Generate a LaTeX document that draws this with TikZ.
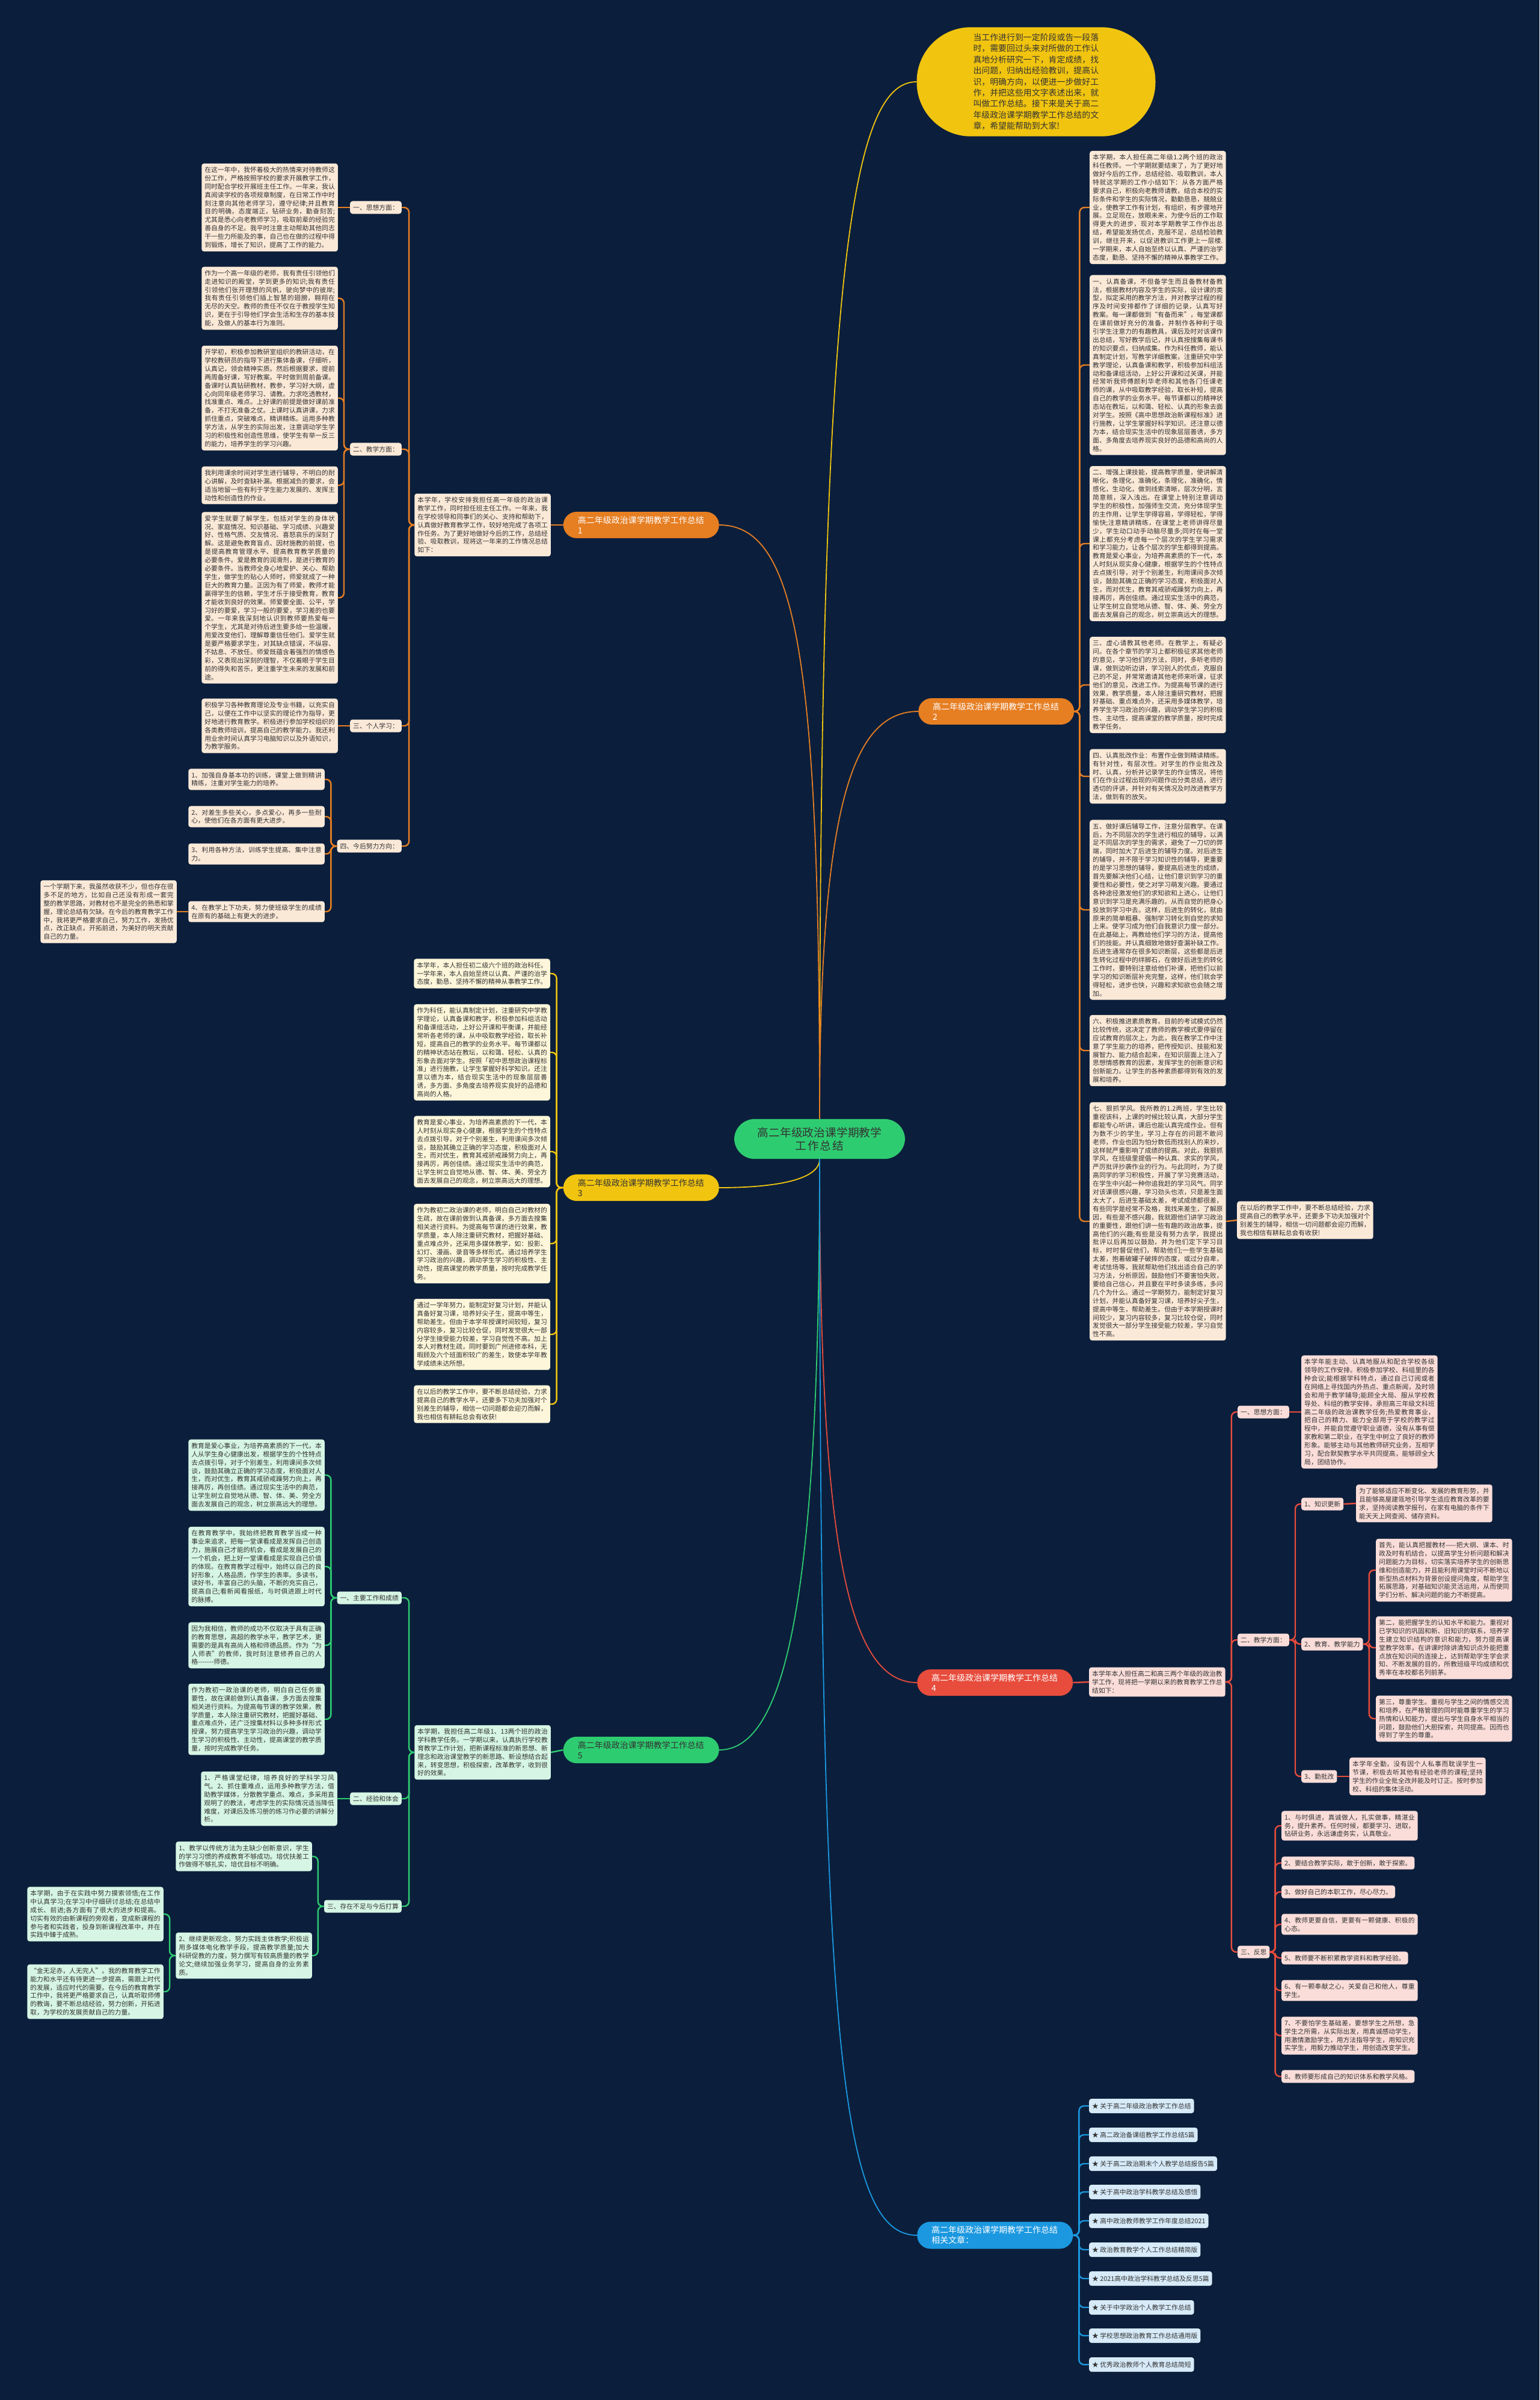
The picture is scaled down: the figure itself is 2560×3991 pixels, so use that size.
\documentclass[tikz,border=0pt]{standalone}
\usepackage{fontspec}
\setmainfont{Noto Sans CJK SC}
\XeTeXlinebreaklocale "zh"
\XeTeXlinebreakskip=0pt plus 1pt
\usetikzlibrary{positioning}

\definecolor{navy}{RGB}{11,31,60}
\definecolor{inkgray}{RGB}{51,51,51}
\definecolor{orangeline}{RGB}{230,126,34}
\definecolor{peachfill}{RGB}{251,233,216}
\definecolor{sunyellow}{RGB}{241,196,15}
\definecolor{creamfill}{RGB}{253,246,218}
\definecolor{redline}{RGB}{231,76,60}
\definecolor{pinkfill}{RGB}{250,221,217}
\definecolor{leafgreen}{RGB}{46,204,113}
\definecolor{mintfill}{RGB}{214,245,228}
\definecolor{skyblue}{RGB}{27,152,224}
\definecolor{icefill}{RGB}{214,234,248}

\tikzset{
    txtbox/.style={rectangle, rounded corners=4pt, inner xsep=5pt, inner ysep=5.5pt, text width=216.5pt, align=justify, font=\fontsize{10.8}{13.9}\selectfont, text=inkgray},
    headbox/.style={rectangle, rounded corners=4pt, inner xsep=5pt, inner ysep=5.5pt, font=\fontsize{10.8}{13.9}\selectfont, text=inkgray},
    branch/.style={rectangle, rounded corners=22pt, inner xsep=24pt, inner ysep=7.5pt, text width=211pt, align=left, font=\fontsize{14}{17}\selectfont},
    olink/.style={draw=orangeline, line width=2.4pt, rounded corners=8pt},
    ylink/.style={draw=sunyellow, line width=2.4pt, rounded corners=8pt},
    rlink/.style={draw=redline, line width=2.4pt, rounded corners=8pt},
    glink/.style={draw=leafgreen, line width=2.4pt, rounded corners=8pt},
    blink/.style={draw=skyblue, line width=2.4pt, rounded corners=8pt},
    curve/.style={line width=1.8pt}
}

\begin{document}
\begin{tikzpicture}[x=1pt, y=-1pt]
\useasboundingbox (0,0) rectangle (2560,3991);
\fill[navy] (0,0) rectangle (2560,3991);

% centre and introduction
\node[rectangle, rounded corners=34pt, fill=leafgreen, text=inkgray, inner xsep=35pt, inner ysep=13.5pt, text width=214pt, align=center, font=\fontsize{18.7}{22}\selectfont] (ctr) at (1363,1894) {高二年级政治课学期教学\\工作总结};
\node[rectangle, rounded corners=90pt, fill=sunyellow, text=inkgray, inner xsep=94pt, inner ysep=10.5pt, text width=209pt, align=left, font=\fontsize{13.9}{18.4}\selectfont] (intro) at (1723,136) {当工作进行到一定阶段或告一段落时，需要回过头来对所做的工作认真地分析研究一下，肯定成绩，找出问题，归纳出经验教训，提高认识，明确方向，以便进一步做好工作，并把这些用文字表述出来，就叫做工作总结。接下来是关于高二年级政治课学期教学工作总结的文章，希望能帮助到大家!};

\node[branch, fill=orangeline, text=white, anchor=east] (b1) at (1196,873) {高二年级政治课学期教学工作总结\\1};
\node[branch, fill=orangeline, text=white, anchor=west] (b2) at (1527,1183) {高二年级政治课学期教学工作总结\\2};
\node[branch, fill=sunyellow, text=inkgray, anchor=east] (b3) at (1196,1975) {高二年级政治课学期教学工作总结\\3};
\node[branch, fill=redline, text=white, anchor=west] (b4) at (1525,2798) {高二年级政治课学期教学工作总结\\4};
\node[branch, fill=leafgreen, text=inkgray, anchor=east] (b5) at (1196,2910) {高二年级政治课学期教学工作总结\\5};
\node[branch, fill=skyblue, text=white, anchor=west] (rel) at (1525,3717) {高二年级政治课学期教学工作总结\\相关文章：};

\draw[curve, sunyellow] (ctr.north) .. controls +(0,-1400) and +(-110,0) .. (intro.west);
\draw[curve, orangeline] (ctr.north) .. controls +(0,-760) and +(130,0) .. (b1.east);
\draw[curve, orangeline] (ctr.north) .. controls +(0,-520) and +(-110,0) .. (b2.west);
\draw[curve, sunyellow] (ctr.south) .. controls +(0,40) and +(70,0) .. (b3.east);
\draw[curve, redline] (ctr.south) .. controls +(0,620) and +(-120,0) .. (b4.west);
\draw[curve, leafgreen] (ctr.south) .. controls +(0,680) and +(120,0) .. (b5.east);
\draw[curve, skyblue] (ctr.south) .. controls +(0,1450) and +(-130,0) .. (rel.west);

% branch 1
\node[txtbox, fill=peachfill, anchor=east] (b1i) at (916,873) {本学年，学校安排我担任高一年级的政治课教学工作，同时担任班主任工作。一年来，我在学校领导和同事们的关心、支持和帮助下，认真做好教育教学工作，较好地完成了各项工作任务。为了更好地做好今后的工作，总结经验、吸取教训，现将这一年来的工作情况总结如下：};
\node[headbox, fill=peachfill, anchor=east] (b1h1) at (668,345) {一、思想方面：};
\node[headbox, fill=peachfill, anchor=east] (b1h2) at (668,747) {二、教学方面：};
\node[headbox, fill=peachfill, anchor=east] (b1h3) at (668,1207) {三、个人学习：};
\node[headbox, fill=peachfill, anchor=east] (b1h4) at (668,1407) {四、今后努力方向：};
\node[txtbox, fill=peachfill, anchor=east] (b1t1) at (562,345) {在这一年中，我怀着极大的热情来对待教师这份工作，严格按照学校的要求开展教学工作，同时配合学校开展班主任工作。一年来，我认真阅读学校的各项规章制度，在日常工作中时刻注意向其他老师学习，遵守纪律;并且教育目的明确，态度端正，钻研业务，勤奋刻苦;尤其是悉心向老教师学习，吸取前辈的经验完善自身的不足。我平时注意主动帮助其他同志干一些力所能及的事，自己也在做的过程中得到锻炼，增长了知识，提高了工作的能力。};
\node[txtbox, fill=peachfill, anchor=east] (b1t2) at (562,496) {作为一个高一年级的老师，我有责任引领他们走进知识的殿堂，学到更多的知识;我有责任引领他们张开理想的风帆，驶向梦中的彼岸;我有责任引领他们插上智慧的翅膀，翱翔在无尽的天空。教师的责任不仅在于教授学生知识，更在于引导他们学会生活和生存的基本技能，及做人的基本行为准则。};
\node[txtbox, fill=peachfill, anchor=east] (b1t3) at (562,662) {开学初，积极参加教研室组织的教研活动，在学校教研员的指导下进行集体备课，仔细听，认真记，领会精神实质。然后根据要求，提前两周备好课，写好教案。平时做到周前备课。备课时认真钻研教材、教参，学习好大纲，虚心向同年级老师学习、请教。力求吃透教材，找准重点、难点。上好课的前提是做好课前准备，不打无准备之仗。上课时认真讲课，力求抓住重点，突破难点，精讲精练。运用多种教学方法，从学生的实际出发，注意调动学生学习的积极性和创造性思维，使学生有举一反三的能力，培养学生的学习兴趣。};
\node[txtbox, fill=peachfill, anchor=east] (b1t4) at (562,807) {我利用课余时间对学生进行辅导，不明白的耐心讲解，及时查缺补漏。根据减负的要求，会适当地留一些有利于学生能力发展的、发挥主动性和创造性的作业。};
\node[txtbox, fill=peachfill, anchor=east] (b1t5) at (562,994) {爱学生就要了解学生，包括对学生的身体状况、家庭情况、知识基础、学习成绩、兴趣爱好、性格气质、交友情况、喜怒哀乐的深刻了解。这是避免教育盲点、因材施教的前提，也是提高教育管理水平、提高教育教学质量的必要条件。爱是教育的润滑剂，是进行教育的必要条件。当教师全身心地爱护、关心、帮助学生，做学生的贴心人师时，师爱就成了一种巨大的教育力量。正因为有了师爱，教师才能赢得学生的信赖，学生才乐于接受教育，教育才能收到良好的效果。师爱要全面、公平，学习好的要爱，学习一般的要爱，学习差的也要爱。一年来我深刻地认识到教师要热爱每一个学生，尤其是对待后进生要多给一些温暖，用爱改变他们，理解尊重信任他们。爱学生就是要严格要求学生，对其缺点错误，不纵容、不姑息、不放任。师爱既蕴含着强烈的情感色彩，又表现出深刻的理智，不仅着眼于学生目前的得失和苦乐，更注重学生未来的发展和前途。};
\node[txtbox, fill=peachfill, anchor=east] (b1t6) at (562,1207) {积极学习各种教育理论及专业书籍，以充实自己，以便在工作中以坚实的理论作为指导，更好地进行教育教学。积极进行参加学校组织的各类教师培训，提高自己的教学能力。我还利用业余时间认真学习电脑知识以及外语知识，为教学服务。};
\node[txtbox, fill=peachfill, anchor=east] (b1p1) at (540,1296) {1、加强自身基本功的训练，课堂上做到精讲精练，注重对学生能力的培养。};
\node[txtbox, fill=peachfill, anchor=east] (b1p2) at (540,1358) {2、对差生多些关心，多点爱心，再多一些耐心，使他们在各方面有更大进步。};
\node[txtbox, fill=peachfill, anchor=east] (b1p3) at (540,1420) {3、利用各种方法，训练学生提高、集中注意力。};
\node[txtbox, fill=peachfill, anchor=east] (b1p4) at (540,1516) {4、在教学上下功夫，努力使班级学生的成绩在原有的基础上有更大的进步。};
\node[txtbox, fill=peachfill, anchor=east] (b1q) at (294,1516) {一个学期下来，我虽然收获不少，但也存在很多不足的地方，比如自己还没有形成一套完整的教学思路，对教材也不是完全的熟悉和掌握，理论总结有欠缺。在今后的教育教学工作中，我将更严格要求自己，努力工作，发扬优点，改正缺点，开拓前进，为美好的明天贡献自己的力量。};

\draw[olink] (b1.west) -- (b1i.east);
\draw[olink] (b1i.west) -- ++(-9,0) |- (b1h1.east);
\draw[olink] (b1i.west) -- ++(-9,0) |- (b1h2.east);
\draw[olink] (b1i.west) -- ++(-9,0) |- (b1h3.east);
\draw[olink] (b1i.west) -- ++(-9,0) |- (b1h4.east);
\draw[olink] (b1h1.west) -- (b1t1.east);
\draw[olink] (b1h2.west) -- ++(-10,0) |- (b1t2.east);
\draw[olink] (b1h2.west) -- ++(-10,0) |- (b1t3.east);
\draw[olink] (b1h2.west) -- ++(-10,0) |- (b1t4.east);
\draw[olink] (b1h2.west) -- ++(-10,0) |- (b1t5.east);
\draw[olink] (b1h3.west) -- (b1t6.east);
\draw[olink] (b1h4.west) -- ++(-10,0) |- (b1p1.east);
\draw[olink] (b1h4.west) -- ++(-10,0) |- (b1p2.east);
\draw[olink] (b1h4.west) -- ++(-10,0) |- (b1p3.east);
\draw[olink] (b1h4.west) -- ++(-10,0) |- (b1p4.east);
\draw[olink] (b1p4.west) -- (b1q.east);

% branch 2
\node[txtbox, fill=peachfill, anchor=west] (b2t0) at (1812,345) {本学期，本人担任高二年级1.2两个班的政治科任教师。一个学期就要结束了，为了更好地做好今后的工作，总结经验、吸取教训，本人特就这学期的工作小结如下：从各方面严格要求自己，积极向老教师请教，结合本校的实际条件和学生的实际情况，勤勤恳恳，兢兢业业，使教学工作有计划，有组织，有步骤地开展。立足现在，放眼未来，为使今后的工作取得更大的进步，现对本学期教学工作作出总结，希望能发扬优点，克服不足，总结检验教训，继往开来，以促进教训工作更上一层楼.一学期来，本人自始至终以认真、严谨的治学态度，勤恳、坚持不懈的精神从事教学工作。};
\node[txtbox, fill=peachfill, anchor=west] (b2t1) at (1812,607) {一、认真备课，不但备学生而且备教材备教法，根据教材内容及学生的实际，设计课的类型，拟定采用的教学方法，并对教学过程的程序及时间安排都作了详细的记录，认真写好教案。每一课都做到“有备而来”，每堂课都在课前做好充分的准备，并制作各种利于吸引学生注意力的有趣教具，课后及时对该课作出总结，写好教学后记，并认真按搜集每课书的知识要点，归纳成集。作为科任教师，能认真制定计划，写教学详细教案，注重研究中学教学理论，认真备课和教学，积极参加科组活动和备课组活动，上好公开课和过关课，并能经常听我师傅颜利华老师和其他各门任课老师的课，从中吸取教学经验，取长补短，提高自己的教学的业务水平。每节课都以的精神状态站在教坛，以和蔼、轻松、认真的形象去面对学生。按照《高中思想政治新课程标准》进行施教，让学生掌握好科学知识。还注意以德为本，结合现实生活中的现象层层善诱，多方面、多角度去培养现实良好的品德和高尚的人格。};
\node[txtbox, fill=peachfill, anchor=west] (b2t2) at (1812,904) {二、增强上课技能，提高教学质量，使讲解清晰化，条理化，准确化，条理化，准确化，情感化，生动化，做到线索清晰，层次分明，言简意赅，深入浅出。在课堂上特别注意调动学生的积极性，加强师生交流，充分体现学生的主作用，让学生学得容易，学得轻松，学得愉快;注意精讲精练，在课堂上老师讲得尽量少，学生动口动手动脑尽量多;同时在每一堂课上都充分考虑每一个层次的学生学习需求和学习能力，让各个层次的学生都得到提高。教育是爱心事业，为培养高素质的下一代，本人时刻从现实身心健康，根据学生的个性特点去点拨引导，对于个别差生，利用课间多次倾谈，鼓励其确立正确的学习态度，积极面对人生，而对优生，教育其戒骄戒躁努力向上，再接再厉，再创佳绩。通过现实生活中的典范，让学生树立自觉地从德、智、体、美、劳全方面去发展自己的观念，树立崇高远大的理想。};
\node[txtbox, fill=peachfill, anchor=west] (b2t3) at (1812,1139) {三、虚心请教其他老师。在教学上，有疑必问。在各个章节的学习上都积极征求其他老师的意见，学习他们的方法，同时，多听老师的课，做到边听边讲，学习别人的优点，克服自己的不足，并常常邀请其他老师来听课，征求他们的意见，改进工作。为提高每节课的进行效果，教学质量，本人除注重研究教材，把握好基础、重点难点外，还采用多媒体教学，培养学生学习政治的兴趣，调动学生学习的积极性、主动性，提高课堂的教学质量，按时完成教学任务。};
\node[txtbox, fill=peachfill, anchor=west] (b2t4) at (1812,1291) {四、认真批改作业：布置作业做到精读精练。有针对性，有层次性。对学生的作业批改及时、认真，分析并记录学生的作业情况，将他们在作业过程出现的问题作出分类总结，进行透切的评讲，并针对有关情况及时改进教学方法，做到有的放矢。};
\node[txtbox, fill=peachfill, anchor=west] (b2t5) at (1812,1513) {五、做好课后辅导工作，注意分层教学。在课后，为不同层次的学生进行相应的辅导，以满足不同层次的学生的需求，避免了一刀切的弊端，同时加大了后进生的辅导力度。对后进生的辅导，并不限于学习知识性的辅导，更重要的是学习思想的辅导，要提高后进生的成绩，首先要解决他们心结，让他们意识到学习的重要性和必要性，使之对学习萌发兴趣。要通过各种途径激发他们的求知欲和上进心，让他们意识到学习是充满乐趣的。从而自觉的把身心投放到学习中去。这样，后进生的转化，就由原来的简单粗暴、强制学习转化到自觉的求知上来。使学习成为他们自我意识力度一部分。在此基础上，再教给他们学习的方法，提高他们的技能。并认真细致地做好查漏补缺工作。后进生通常存在很多知识断层，这些都是后进生转化过程中的绊脚石，在做好后进生的转化工作时，要特别注意给他们补课，把他们以前学习的知识断层补充完整，这样，他们就会学得轻松，进步也快，兴趣和求知欲也会随之增加。};
\node[txtbox, fill=peachfill, anchor=west] (b2t6) at (1812,1747) {六、积极推进素质教育。目前的考试模式仍然比较传统，这决定了教师的教学模式要停留在应试教育的层次上，为此，我在教学工作中注意了学生能力的培养，把传授知识、技能和发展智力、能力结合起来，在知识层面上注入了思想情感教育的因素，发挥学生的创新意识和创新能力。让学生的各种素质都得到有效的发展和培养。};
\node[txtbox, fill=peachfill, anchor=west] (b2t7) at (1812,2031) {七、狠抓学风。我所教的1.2两班，学生比较重视该科，上课的时候比较认真，大部分学生都能专心听讲，课后也能认真完成作业。但有为数不少的学生，学习上存在的问题不敢问老师，作业也因为怕分数低而找别人的来抄，这样就严重影响了成绩的提高。对此，我狠抓学风，在班级里提倡一种认真、求实的学风，严厉批评抄袭作业的行为。与此同时，为了提高同学的学习积极性，开展了学习竞赛活动，在学生中兴起一种你追我赶的学习风气。同学对该课很感兴趣，学习劲头也浓，只是差生面太大了，后进生基础太差，考试成绩都很差，有些同学是经常不及格，我找来差生，了解原因，有些是不感兴趣，我就跟他们讲学习政治的重要性，跟他们讲一些有趣的政治故事，提高他们的兴趣;有些是没有努力去学，我提出批评以后再加以鼓励，并为他们定下学习目标，时时督促他们，帮助他们;一些学生基础太差，抱着破罐子破摔的态度，或过分自卑，考试怯场等，我就帮助他们找出适合自己的学习方法，分析原因，鼓励他们不要害怕失败，要给自己信心，并且要在平时多读多练，多问几个为什么。通过一学期努力，能制定好复习计划，并能认真备好复习课，培养好尖子生，提高中等生，帮助差生。但由于本学期授课时间较少，复习内容较多，复习比较仓促，同时发觉很大一部分学生接受能力较差，学习自觉性不高。};
\node[txtbox, fill=peachfill, anchor=west] (b2x) at (2057,2029) {在以后的教学工作中，要不断总结经验，力求提高自己的教学水平，还要多下功夫加强对个别差生的辅导，相信一切问题都会迎刃而解，我也相信有耕耘总会有收获!};

\draw[olink] (b2.east) -- ++(9,0) |- (b2t0.west);
\draw[olink] (b2.east) -- ++(9,0) |- (b2t1.west);
\draw[olink] (b2.east) -- ++(9,0) |- (b2t2.west);
\draw[olink] (b2.east) -- ++(9,0) |- (b2t3.west);
\draw[olink] (b2.east) -- ++(9,0) |- (b2t4.west);
\draw[olink] (b2.east) -- ++(9,0) |- (b2t5.west);
\draw[olink] (b2.east) -- ++(9,0) |- (b2t6.west);
\draw[olink] (b2.east) -- ++(9,0) |- (b2t7.west);
\draw[olink] (b2t7.east) -- (b2x.west);

% branch 3
\node[txtbox, fill=creamfill, anchor=east] (b3t1) at (915,1619) {本学年，本人担任初二级六个班的政治科任。一学年来，本人自始至终以认真、严谨的治学态度，勤恳、坚持不懈的精神从事教学工作。};
\node[txtbox, fill=creamfill, anchor=east] (b3t2) at (915,1750) {作为科任，能认真制定计划，注重研究中学教学理论，认真备课和教学，积极参加科组活动和备课组活动，上好公开课和平衡课，并能经常听各老师的课，从中吸取教学经验，取长补短，提高自己的教学的业务水平。每节课都以的精神状态站在教坛，以和蔼、轻松、认真的形象去面对学生。按照「初中思想政治课程标准」进行施教，让学生掌握好科学知识。还注意以德为本，结合现实生活中的现象层层善诱，多方面、多角度去培养现实良好的品德和高尚的人格。};
\node[txtbox, fill=creamfill, anchor=east] (b3t3) at (915,1915) {教育是爱心事业，为培养高素质的下一代，本人时刻从现实身心健康，根据学生的个性特点去点拨引导，对于个别差生，利用课间多次倾谈，鼓励其确立正确的学习态度，积极面对人生，而对优生，教育其戒骄戒躁努力向上，再接再厉，再创佳绩。通过现实生活中的典范，让学生树立自觉地从德、智、体、美、劳全方面去发展自己的观念，树立崇高远大的理想。};
\node[txtbox, fill=creamfill, anchor=east] (b3t4) at (915,2068) {作为教初二政治课的老师，明白自己对教材的生疏，故在课前做到认真备课，多方面去搜集相关进行资料。为提高每节课的进行效果，教学质量，本人除注重研究教材，把握好基础、重点难点外，还采用多媒体教学，如：投影、幻灯、漫画、录音等多样形式。通过培养学生学习政治的兴趣，调动学生学习的积极性、主动性，提高课堂的教学质量，按时完成教学任务。};
\node[txtbox, fill=creamfill, anchor=east] (b3t5) at (915,2219) {通过一学年努力，能制定好复习计划，并能认真备好复习课，培养好尖子生，提高中等生，帮助差生。但由于本学年授课时间较短，复习内容较多，复习比较仓促，同时发觉很大一部分学生接受能力较差，学习自觉性不高。加上本人对教材生疏，同时要到广州进修本科，无暇顾及六个班面积较广的差生，致使本学年教学成绩未达所想。};
\node[txtbox, fill=creamfill, anchor=east] (b3t6) at (915,2335) {在以后的教学工作中，要不断总结经验，力求提高自己的教学水平，还要多下功夫加强对个别差生的辅导，相信一切问题都会迎刃而解，我也相信有耕耘总会有收获!};

\draw[ylink] (b3.west) -- ++(-11,0) |- (b3t1.east);
\draw[ylink] (b3.west) -- ++(-11,0) |- (b3t2.east);
\draw[ylink] (b3.west) -- ++(-11,0) |- (b3t3.east);
\draw[ylink] (b3.west) -- ++(-11,0) |- (b3t4.east);
\draw[ylink] (b3.west) -- ++(-11,0) |- (b3t5.east);
\draw[ylink] (b3.west) -- ++(-11,0) |- (b3t6.east);

% branch 4
\node[txtbox, fill=pinkfill, anchor=west] (b4i) at (1811,2797) {本学年本人担任高二和高三两个年级的政治教学工作，现将把一学期以来的教育教学工作总结如下：};
\node[headbox, fill=pinkfill, anchor=west] (b4h1) at (2058,2348) {一、思想方面：};
\node[headbox, fill=pinkfill, anchor=west] (b4h2) at (2058,2727) {二、教学方面：};
\node[headbox, fill=pinkfill, anchor=west] (b4h3) at (2058,3246) {三、反思};
\node[txtbox, fill=pinkfill, anchor=west] (b4t1) at (2164,2348) {本学年能主动、认真地服从和配合学校各级领导的工作安排。积极参加学校、科组里的各种会议;能根据学科特点，通过自己订阅或者在网络上寻找国内外热点、重点新闻，及时领会和用于教学辅导;能顾全大局、服从学校教导处、科组的教学安排，承担高三年级文科班高二年级的政治课教学任务;热爱教育事业，把自己的精力、能力全部用于学校的教学过程中，并能自觉遵守职业道德，没有从事有偿家教和第二职业，在学生中树立了良好的教师形象。能够主动与其他教师研究业务，互相学习，配合默契教学水平共同提高，能够顾全大局，团结协作。};
\node[headbox, fill=pinkfill, anchor=west] (b4k1) at (2164,2501) {1、知识更新};
\node[headbox, fill=pinkfill, anchor=west] (b4k2) at (2164,2734) {2、教育、教学能力};
\node[headbox, fill=pinkfill, anchor=west] (b4k3) at (2164,2954) {3、勤批改};
\node[txtbox, fill=pinkfill, anchor=west] (b4s1) at (2255,2500) {为了能够适应不断变化、发展的教育形势，并且能够高屋建瓴地引导学生适应教育改革的要求，坚持阅读教学报刊，在家有电脑的条件下能天天上网查阅、储存资料。};
\node[txtbox, fill=pinkfill, anchor=west] (b4s2) at (2288,2611) {首先，能认真把握教材——把大纲、课本、时政及时有机结合，以提高学生分析问题和解决问题能力为目标，切实落实培养学生的创新思维和创造能力，并且能利用课堂时间不断地以新型热点材料为背景创设提问角度，帮助学生拓展思路，对基础知识能灵活运用，从而使同学们分析、解决问题的能力不断提高。};
\node[txtbox, fill=pinkfill, anchor=west] (b4s3) at (2288,2740) {第二，能把握学生的认知水平和能力。重视对已学知识的巩固和新、旧知识的联系，培养学生建立知识结构的意识和能力，努力提高课堂教学效率，在讲课时除讲清知识点外能把重点放在知识间的连接上，达到帮助学生学会求知、不断发展的目的，所教班级平均成绩和优秀率在本校都名列前茅。};
\node[txtbox, fill=pinkfill, anchor=west] (b4s4) at (2288,2858) {第三，尊重学生。重视与学生之间的情感交流和培养，在严格管理的同时能尊重学生的学习热情和认知能力，提出与学生自身水平相当的问题，鼓励他们大胆探索，共同提高。因而也得到了学生的尊重。};
\node[txtbox, fill=pinkfill, anchor=west] (b4s5) at (2244,2954) {本学年全勤，没有因个人私事而耽误学生一节课，积极去听其他有经验老师的课程;坚持学生的作业全批全改并能及时订正。按时参加校、科组的集体活动。};
\node[txtbox, fill=pinkfill, anchor=west] (b4r1) at (2131,3036) {1、与时俱进，真诚做人，扎实做事，精湛业务，提升素养。任何时候，都要学习、进取，钻研业务，永远谦虚务实，认真敬业。};
\node[headbox, fill=pinkfill, anchor=west] (b4r2) at (2131,3098) {2、要结合教学实际，敢于创新，敢于探索。};
\node[headbox, fill=pinkfill, anchor=west] (b4r3) at (2131,3146) {3、做好自己的本职工作，尽心尽力。};
\node[txtbox, fill=pinkfill, anchor=west] (b4r4) at (2131,3200) {4、教师更要自信，更要有一颗健康、积极的心态。};
\node[headbox, fill=pinkfill, anchor=west] (b4r5) at (2131,3256) {5、教师要不断积累教学资料和教学经验。};
\node[txtbox, fill=pinkfill, anchor=west] (b4r6) at (2131,3310) {6、有一颗奉献之心，关爱自己和他人，尊重学生。};
\node[txtbox, fill=pinkfill, anchor=west] (b4r7) at (2131,3385) {7、不要怕学生基础差，要想学生之所想，急学生之所需，从实际出发，用真诚感动学生，用激情激励学生，用方法指导学生，用知识充实学生，用毅力推动学生，用创造改变学生。};
\node[headbox, fill=pinkfill, anchor=west] (b4r8) at (2131,3453) {8、教师要形成自己的知识体系和教学风格。};

\draw[rlink] (b4.east) -- (b4i.west);
\draw[rlink] (b4i.east) -- ++(10,0) |- (b4h1.west);
\draw[rlink] (b4i.east) -- ++(10,0) |- (b4h2.west);
\draw[rlink] (b4i.east) -- ++(10,0) |- (b4h3.west);
\draw[rlink] (b4h1.east) -- (b4t1.west);
\draw[rlink] (b4h2.east) -- ++(10,0) |- (b4k1.west);
\draw[rlink] (b4h2.east) -- ++(10,0) |- (b4k2.west);
\draw[rlink] (b4h2.east) -- ++(10,0) |- (b4k3.west);
\draw[rlink] (b4k1.east) -- (b4s1.west);
\draw[rlink] (b4k2.east) -- ++(10,0) |- (b4s2.west);
\draw[rlink] (b4k2.east) -- ++(10,0) |- (b4s3.west);
\draw[rlink] (b4k2.east) -- ++(10,0) |- (b4s4.west);
\draw[rlink] (b4k3.east) -- (b4s5.west);
\draw[rlink] (b4h3.east) -- ++(9,0) |- (b4r1.west);
\draw[rlink] (b4h3.east) -- ++(9,0) |- (b4r2.west);
\draw[rlink] (b4h3.east) -- ++(9,0) |- (b4r3.west);
\draw[rlink] (b4h3.east) -- ++(9,0) |- (b4r4.west);
\draw[rlink] (b4h3.east) -- ++(9,0) |- (b4r5.west);
\draw[rlink] (b4h3.east) -- ++(9,0) |- (b4r6.west);
\draw[rlink] (b4h3.east) -- ++(9,0) |- (b4r7.west);
\draw[rlink] (b4h3.east) -- ++(9,0) |- (b4r8.west);

% branch 5
\node[txtbox, fill=mintfill, anchor=east] (b5i) at (916,2914) {本学期，我担任高二年级1、13两个班的政治学科教学任务。一学期以来，认真执行学校教育教学工作计划，把新课程标准的新思想、新理念和政治课堂教学的新思路、新设想结合起来，转变思想，积极探索，改革教学，收到很好的效果。};
\node[headbox, fill=mintfill, anchor=east] (b5h1) at (668,2657) {一、主要工作和成绩};
\node[headbox, fill=mintfill, anchor=east] (b5h2) at (668,2991) {二、经验和体会};
\node[headbox, fill=mintfill, anchor=east] (b5h3) at (668,3170) {三、存在不足与今后打算};
\node[txtbox, fill=mintfill, anchor=east] (b5a1) at (540,2453) {教育是爱心事业，为培养高素质的下一代，本人从学生身心健康出发，根据学生的个性特点去点拨引导，对于个别差生，利用课间多次倾谈，鼓励其确立正确的学习态度，积极面对人生，而对优生，教育其戒骄戒躁努力向上，再接再厉，再创佳绩。通过现实生活中的典范，让学生树立自觉地从德、智、体、美、劳全方面去发展自己的观念，树立崇高远大的理想。};
\node[txtbox, fill=mintfill, anchor=east] (b5a2) at (540,2605) {在教育教学中，我始终把教育教学当成一种事业来追求，把每一堂课看成是发挥自己创造力，施展自己才能的机会，看成是发展自己的一个机会，把上好一堂课看成是实现自己价值的体现。在教育教学过程中，始终以自己的良好形象，人格品质，作学生的表率。多读书，读好书，丰富自己的头脑，不断的充实自己，提高自己;看新闻看报纸，与时俱进跟上时代的脉搏。};
\node[txtbox, fill=mintfill, anchor=east] (b5a3) at (540,2736) {因为我相信，教师的成功不仅取决于具有正确的教育思想，高超的教学水平，教学艺术，更需要的是具有高尚人格和师德品质。作为“为人师表”的教师，我时刻注意修养自己的人格-{}-{}-{}-{}-{}-{}-师德。};
\node[txtbox, fill=mintfill, anchor=east] (b5a4) at (540,2859) {作为教初一政治课的老师，明白自己任务重要性，故在课前做到认真备课，多方面去搜集相关进行资料。为提高每节课的教学效果，教学质量，本人除注重研究教材，把握好基础、重点难点外，还广泛搜集材料以多种多样形式授课，努力提高学生学习政治的兴趣，调动学生学习的积极性、主动性，提高课堂的教学质量，按时完成教学任务。};
\node[txtbox, fill=mintfill, anchor=east] (b5b) at (561,2991) {1、严格课堂纪律，培养良好的学科学习风气。2、抓住重难点，运用多种教学方法，借助教学媒体，分散教学重点、难点，多采用直观明了的教法，考虑学生的实际情况适当降低难度，对课后及练习册的练习作必要的讲解分析。};
\node[txtbox, fill=mintfill, anchor=east] (b5c1) at (519,3087) {1、教学以传统方法为主缺少创新意识，学生的学习习惯的养成教育不够成功。培优扶差工作做得不够扎实，培优目标不明确。};
\node[txtbox, fill=mintfill, anchor=east] (b5c2) at (519,3252) {2、继续更新观念，努力实践主体教学;积极运用多媒体电化教学手段，提高教学质量;加大科研促教的力度，努力撰写有较高质量的教学论文;继续加强业务学习，提高自身的业务素质。};
\node[txtbox, fill=mintfill, anchor=east] (b5d1) at (272,3183) {本学期，由于在实践中努力摸索领悟;在工作中认真学习;在学习中仔细研讨总结;在总结中成长、前进;各方面有了很大的进步和提高。切实有效的由新课程的旁观者，变成新课程的参与者和实践者，投身到新课程改革中，并在实践中臻于成熟。};
\node[txtbox, fill=mintfill, anchor=east] (b5d2) at (272,3312) {“金无足赤，人无完人”。我的教育教学工作能力和水平还有待更进一步提高，需跟上时代的发展，适应时代的需要。在今后的教育教学工作中，我将更严格要求自己，认真听取师傅的教诲，要不断总结经验，努力创新，开拓进取，为学校的发展贡献自己的力量。};

\draw[glink] (b5.west) -- (b5i.east);
\draw[glink] (b5i.west) -- ++(-9,0) |- (b5h1.east);
\draw[glink] (b5i.west) -- ++(-9,0) |- (b5h2.east);
\draw[glink] (b5i.west) -- ++(-9,0) |- (b5h3.east);
\draw[glink] (b5h1.west) -- ++(-10,0) |- (b5a1.east);
\draw[glink] (b5h1.west) -- ++(-10,0) |- (b5a2.east);
\draw[glink] (b5h1.west) -- ++(-10,0) |- (b5a3.east);
\draw[glink] (b5h1.west) -- ++(-10,0) |- (b5a4.east);
\draw[glink] (b5h2.west) -- (b5b.east);
\draw[glink] (b5h3.west) -- ++(-10,0) |- (b5c1.east);
\draw[glink] (b5h3.west) -- ++(-10,0) |- (b5c2.east);
\draw[glink] (b5c2.west) -- ++(-10,0) |- (b5d1.east);
\draw[glink] (b5c2.west) -- ++(-10,0) |- (b5d2.east);

% related articles
\node[headbox, fill=icefill, inner ysep=7pt, anchor=west] (rel1) at (1811,3502) {★ 关于高二年级政治教学工作总结};
\node[headbox, fill=icefill, inner ysep=7pt, anchor=west] (rel2) at (1811,3550) {★ 高二政治备课组教学工作总结5篇};
\node[headbox, fill=icefill, inner ysep=7pt, anchor=west] (rel3) at (1811,3598) {★ 关于高二政治期末个人教学总结报告5篇};
\node[headbox, fill=icefill, inner ysep=7pt, anchor=west] (rel4) at (1811,3645) {★ 关于高中政治学科教学总结及感悟};
\node[headbox, fill=icefill, inner ysep=7pt, anchor=west] (rel5) at (1811,3693) {★ 高中政治教师教学工作年度总结2021};
\node[headbox, fill=icefill, inner ysep=7pt, anchor=west] (rel6) at (1811,3741) {★ 政治教育教学个人工作总结精简版};
\node[headbox, fill=icefill, inner ysep=7pt, anchor=west] (rel7) at (1811,3789) {★ 2021高中政治学科教学总结及反思5篇};
\node[headbox, fill=icefill, inner ysep=7pt, anchor=west] (rel8) at (1811,3837) {★ 关于中学政治个人教学工作总结};
\node[headbox, fill=icefill, inner ysep=7pt, anchor=west] (rel9) at (1811,3884) {★ 学校思想政治教育工作总结通用版};
\node[headbox, fill=icefill, inner ysep=7pt, anchor=west] (rel10) at (1811,3932) {★ 优秀政治教师个人教育总结简短};

\draw[blink] (rel.east) -- ++(10,0) |- (rel1.west);
\draw[blink] (rel.east) -- ++(10,0) |- (rel2.west);
\draw[blink] (rel.east) -- ++(10,0) |- (rel3.west);
\draw[blink] (rel.east) -- ++(10,0) |- (rel4.west);
\draw[blink] (rel.east) -- ++(10,0) |- (rel5.west);
\draw[blink] (rel.east) -- ++(10,0) |- (rel6.west);
\draw[blink] (rel.east) -- ++(10,0) |- (rel7.west);
\draw[blink] (rel.east) -- ++(10,0) |- (rel8.west);
\draw[blink] (rel.east) -- ++(10,0) |- (rel9.west);
\draw[blink] (rel.east) -- ++(10,0) |- (rel10.west);
\end{tikzpicture}
\end{document}
